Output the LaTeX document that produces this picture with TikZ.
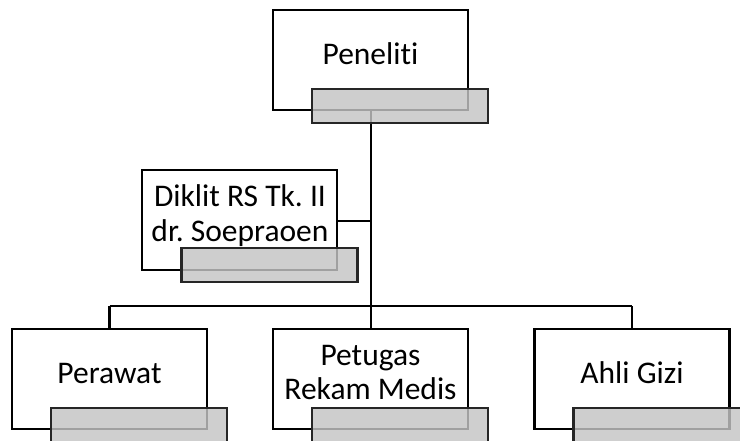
\documentclass[tikz,border=0pt]{standalone}
\usepackage{fontspec}
\setmainfont{Carlito}[Ligatures=NoCommon]
\frenchspacing
\begin{document}
\begin{tikzpicture}[x=1pt,y=-1pt,
  wbox/.style={draw=black,line width=2.8pt,fill=white,rectangle,inner sep=0pt,minimum width=195pt,minimum height=100pt},
  gbox/.style={draw=black!85,line width=2.8pt,fill={rgb,255:red,196;green,196;blue,196},fill opacity=0.82,draw opacity=1,rectangle,inner sep=0pt,minimum width=176pt,minimum height=34pt},
  lbl/.style={font=\fontsize{31.5}{35}\selectfont,inner sep=0pt,anchor=base,text=black},
  conn/.style={draw=black,line width=2.3pt}]
\useasboundingbox (0,0) rectangle (740,441);
% white boxes
\node[wbox] (pen) at (370.5,60) {};
\node[wbox] (dik) at (239.5,220) {};
\node[wbox] (per) at (109.5,379) {};
\node[wbox] (pet) at (370.5,379) {};
\node[wbox] (ahl) at (632,379) {};
% connectors
\coordinate (jd) at (371,221);
\coordinate (jh) at (371,306);
\coordinate (jl) at (109.5,306);
\coordinate (jr) at (632,306);
\draw[conn] (pen.south -| jh) -- (jh);
\draw[conn] (dik.east |- jd) -- (jd);
\draw[conn] (jl) -- (jr);
\draw[conn] (jl) -- (per.north);
\draw[conn] (jh) -- (pet.north -| jh);
\draw[conn] (jr) -- (ahl.north);
% gray boxes
\node[gbox] (peng) at (400,106) {};
\node[gbox] (dikg) at (269.5,265) {};
\node[gbox] (perg) at (139,425) {};
\node[gbox] (petg) at (400,425) {};
\node[gbox] (ahlg) at (661.5,425) {};
% labels
\node[lbl] (pent) at (370.5,65) {Peneliti};
\node[lbl] (dikt) at (240,207) {\begin{tabular}[t]{@{}c@{}}Diklit RS Tk. II\\dr. Soepraoen\end{tabular}};
\node[lbl] (pert) at (109.5,383) {Perawat};
\node[lbl] (pett) at (370.5,365) {\begin{tabular}[t]{@{}c@{}}Petugas\\Rekam Medis\end{tabular}};
\node[lbl] (ahlt) at (632,383) {Ahli Gizi};
\end{tikzpicture}
\end{document}
